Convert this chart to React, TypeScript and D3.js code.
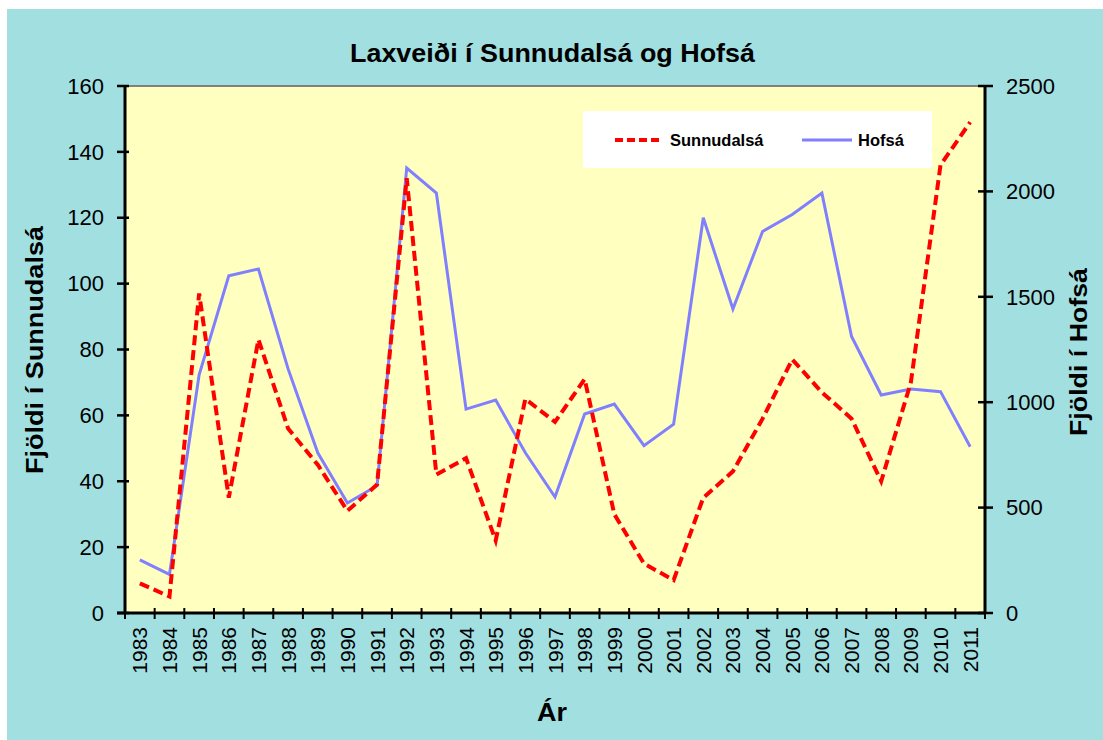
import { scaleBand, scaleLinear, line } from 'd3'

// Laxveiði í Sunnudalsá og Hofsá
const years = [
  '1983', '1984', '1985', '1986', '1987', '1988', '1989', '1990', '1991', '1992',
  '1993', '1994', '1995', '1996', '1997', '1998', '1999', '2000', '2001', '2002',
  '2003', '2004', '2005', '2006', '2007', '2008', '2009', '2010', '2011',
]
const sunnudalsa = [
  9, 5, 97, 35, 83, 56, 45, 31, 39, 132,
  42, 47, 22, 65, 58, 71, 30, 15, 10, 35,
  43, 59, 77, 67, 59, 40, 70, 136, 149,
]
const hofsa = [
  252, 183, 1130, 1600, 1632, 1158, 760, 522, 604, 2111,
  1992, 967, 1010, 760, 550, 944, 991, 794, 896, 1875,
  1442, 1810, 1890, 1992, 1312, 1034, 1063, 1050, 789,
]
const leftTicks = [0, 20, 40, 60, 80, 100, 120, 140, 160]
const rightTicks = [0, 500, 1000, 1500, 2000, 2500]

const arial = "'Liberation Sans', Arial, sans-serif"

let App = () => {
  let width = 1103
  let height = 740
  let margin = { top: 86, right: 118, bottom: 127, left: 125 }
  let innerWidth = width - margin.left - margin.right
  let innerHeight = height - margin.top - margin.bottom

  let xScale = scaleBand().domain(years).range([0, innerWidth])
  let yLeft = scaleLinear().domain([0, 160]).range([innerHeight, 0])
  let yRight = scaleLinear().domain([0, 2500]).range([innerHeight, 0])
  let cx = (i: number) => xScale(years[i])! + xScale.bandwidth() / 2

  let redLine = line<number>().x((d, i) => cx(i)).y(d => yLeft(d))
  let blueLine = line<number>().x((d, i) => cx(i)).y(d => yRight(d))

  return (
    <svg width={width} height={height} style={{ position: 'absolute', left: 0, top: 0 }}>
      <rect x={0} y={0} width={width} height={height} fill='#ffffff' />
      <rect x={7} y={9} width={width - 7} height={height - 9} fill='#a2dfe0' />

      <text x={350} y={62} textLength={405} lengthAdjust='spacingAndGlyphs' fontFamily={arial} fontWeight='bold' fontSize={26}>
        Laxveiði í Sunnudalsá og Hofsá
      </text>

      <g transform={`translate(${margin.left},${margin.top})`}>
        <rect x={0} y={0} width={innerWidth} height={innerHeight} fill='#ffffc0' stroke='#808080' strokeWidth={2} />

        {/* legend */}
        <rect x={458} y={25} width={349} height={57} fill='#ffffff' />
        <line x1={490} x2={535} y1={54} y2={54} stroke='#ff0000' strokeWidth={4} strokeDasharray='8,4' />
        <text x={545} y={54} dy='.35em' fontFamily={arial} fontWeight='bold' fontSize={16.5}>Sunnudalsá</text>
        <line x1={677} x2={727} y1={54} y2={54} stroke='#8080ff' strokeWidth={3} />
        <text x={733} y={54} dy='.35em' fontFamily={arial} fontWeight='bold' fontSize={16.5}>Hofsá</text>

        <path d={blueLine(hofsa)!} fill='none' stroke='#8080ff' strokeWidth={3} strokeLinejoin='miter' />
        <path d={redLine(sunnudalsa)!} fill='none' stroke='#ff0000' strokeWidth={4} strokeDasharray='10,5' />

        {/* left axis */}
        <line x1={0} x2={0} y1={0} y2={innerHeight} stroke='black' strokeWidth={3} />
        {leftTicks.map(t => (
          <g key={t} transform={`translate(0,${yLeft(t)})`}>
            <line x1={-8} x2={4} stroke='black' strokeWidth={2.5} />
            <text x={-21} dy='.35em' textAnchor='end' fontFamily={arial} fontSize={22}>{t}</text>
          </g>
        ))}

        {/* right axis */}
        <line x1={innerWidth} x2={innerWidth} y1={0} y2={innerHeight} stroke='black' strokeWidth={3} />
        {rightTicks.map(t => (
          <g key={t} transform={`translate(${innerWidth},${yRight(t)})`}>
            <line x1={-7} x2={8} stroke='black' strokeWidth={2.5} />
            <text x={21} dy='.35em' textAnchor='start' fontFamily={arial} fontSize={22}>{t}</text>
          </g>
        ))}

        {/* x axis */}
        <line x1={-8} x2={innerWidth} y1={innerHeight} y2={innerHeight} stroke='black' strokeWidth={3} />
        {years.map((y, i) => (
          <g key={y}>
            <line x1={xScale(y)!} x2={xScale(y)!} y1={innerHeight - 5} y2={innerHeight + 6} stroke='black' strokeWidth={2} />
            <text
              transform={`translate(${cx(i)},${innerHeight + 14}) rotate(-90)`}
              dy='.36em'
              textAnchor='end'
              fontFamily={arial}
              fontSize={21}>
              {y}
            </text>
          </g>
        ))}
        <line x1={innerWidth} x2={innerWidth} y1={innerHeight - 5} y2={innerHeight + 6} stroke='black' strokeWidth={2} />
      </g>

      <text x={552} y={721} textAnchor='middle' fontFamily={arial} fontWeight='bold' fontSize={26} textLength={30} lengthAdjust='spacingAndGlyphs'>Ár</text>
      <text transform='translate(43,350) rotate(-90)' textAnchor='middle' fontFamily={arial} fontWeight='bold' fontSize={24} textLength={248} lengthAdjust='spacingAndGlyphs'>
        Fjöldi í Sunnudalsá
      </text>
      <text transform='translate(1087,352) rotate(-90)' textAnchor='middle' fontFamily={arial} fontWeight='bold' fontSize={24} textLength={168} lengthAdjust='spacingAndGlyphs'>
        Fjöldi í Hofsá
      </text>
    </svg>
  )
}

export default App
